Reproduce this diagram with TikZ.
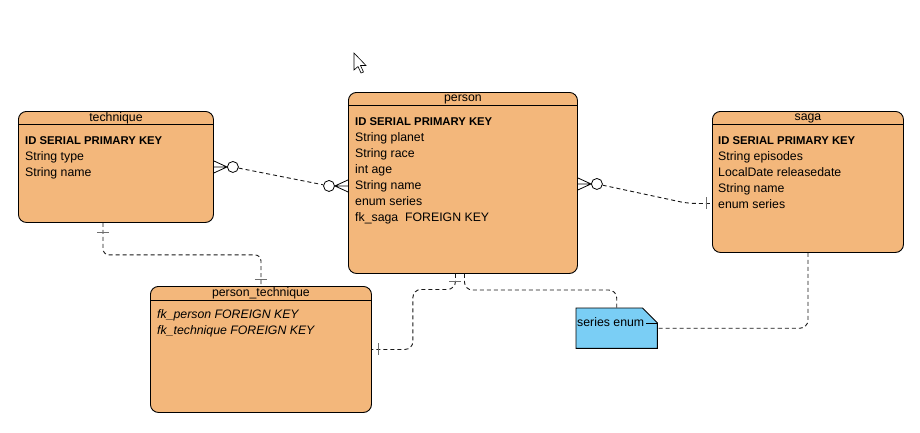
\documentclass[tikz,border=0pt]{standalone}
\usepackage{fontspec}
\setmainfont{Liberation Sans}
\usepackage{xcolor}
\definecolor{lorange}{RGB}{243,183,123}
\definecolor{lblue}{RGB}{122,206,245}
\definecolor{lgray}{RGB}{110,110,110}
\usetikzlibrary{positioning, calc}
\tikzstyle{Entity} = [draw, fill=lorange, rounded corners=8pt, line width=0.9pt,
anchor=north west, inner sep=0pt]
\tikzstyle{Note} = [anchor=north west, inner sep=0pt]
\tikzstyle{Head} = [line width=0.8pt]
\tikzstyle{Title} = [font=\fontsize{12.3}{16}\selectfont, inner sep=0pt]
\tikzstyle{Attr} = [font=\fontsize{12.3}{16}\selectfont, align=left,
anchor=north west, inner sep=0pt]
\tikzstyle{Link} = [dash pattern=on 4pt off 3pt, line width=0.9pt, black!90]
\tikzstyle{Tick} = [line width=1pt, lgray]
\tikzstyle{Foot} = [line width=0.8pt]
\tikzstyle{Zero} = [draw, circle, fill=white, minimum size=11pt, inner sep=0pt,
line width=0.8pt]
\newcommand{\pkrow}{{\fontsize{11.3}{16}\selectfont\bfseries ID SERIAL PRIMARY KEY}}

\begin{document}
\begin{tikzpicture}[x=1pt, y=-1pt]
    \path[fill=white, use as bounding box] (0,0) rectangle (920,432);

    \node[Entity, minimum width=195pt, minimum height=111pt] (technique) at (18,111) {};
    \node[Entity, minimum width=229pt, minimum height=181pt] (person) at (348,92) {};
    \node[Entity, minimum width=191pt, minimum height=141pt] (saga) at (712,111) {};
    \node[Entity, minimum width=221pt, minimum height=126pt] (pt) at (150,286) {};
    \node[Note, minimum width=81pt, minimum height=40pt] (note) at (576,308) {};
    \draw[fill=lblue, line width=0.9pt] (note.north west) -- ($(note.north east)+(-15,0)$)
        -- ($(note.north east)+(0,15)$) -- (note.south east) -- (note.south west) -- cycle;
    \draw[line width=0.7pt] ($(note.north east)+(-11,15)$) -- ($(note.north east)+(0,15)$);

    \draw[Head] ($(technique.north west)+(0,13)$) -- ($(technique.north east)+(0,13)$);
    \draw[Head] ($(person.north west)+(0,13)$) -- ($(person.north east)+(0,13)$);
    \draw[Head] ($(saga.north west)+(0,13)$) -- ($(saga.north east)+(0,13)$);
    \draw[Head] ($(pt.north west)+(0,14)$) -- ($(pt.north east)+(0,14)$);

    \node[Title] (t-title) at ($(technique.north)+(0,7)$) {technique};
    \node[Title] (p-title) at ($(person.north)+(0,7.5)$) {person};
    \node[Title] (s-title) at ($(saga.north)+(0,7)$) {saga};
    \node[Title] (pt-title) at ($(pt.north)+(0,7.5)$) {person\_technique};
    \node[Attr] (t-attr) at ($(technique.north west)+(7,25)$) {\pkrow\\String type\\String name};
    \node[Attr] (p-attr) at ($(person.north west)+(7,25)$) {\pkrow\\String planet\\String race\\int age\\String name\\enum series\\fk\_saga\ \ FOREIGN KEY};
    \node[Attr] (s-attr) at ($(saga.north west)+(6,25)$) {\pkrow\\String episodes\\LocalDate releasedate\\String name\\enum series};
    \node[Attr, font=\fontsize{12.3}{16}\selectfont\itshape] (pt-attr) at ($(pt.north west)+(7,23)$) {fk\_person FOREIGN KEY\\fk\_technique FOREIGN KEY};
    \node[Title, anchor=west] (n-label) at ($(note.west)+(1,-6)$) {series enum};

    \node[Zero] (z1) at ($(technique.east)+(19,0)$) {};
    \node[Zero] (z2) at ($(person.west)+(-19,3)$) {};
    \node[Zero] (z3) at ($(person.east)+(19,1)$) {};
    \draw[Foot] ($(technique.east)+(0,-6)$) -- (z1.west) -- ($(technique.east)+(0,6)$) (technique.east) -- (z1.west);
    \draw[Foot] ($(person.west)+(0,-3)$) -- (z2.east) -- ($(person.west)+(0,9)$) ($(person.west)+(0,3)$) -- (z2.east);
    \draw[Foot] ($(person.east)+(0,-5)$) -- (z3.west) -- ($(person.east)+(0,7)$) ($(person.east)+(0,1)$) -- (z3.west);

    \draw[Link] (z1) -- (z2);
    \draw[Link, rounded corners=8pt] (z3) -- ($(saga.west)+(-24,21.5)$) -- ($(saga.west)+(0,21.5)$);
    \draw[Link, rounded corners=6pt] ($(technique.south west)+(85,0)$) -- ++(0,32) -| (pt.north);
    \draw[Link, rounded corners=8pt] ($(person.south)+(-7.5,0)$) |- ($(pt.east)+(41,-60)$) |- (pt.east);
    \draw[Link, rounded corners=8pt] ($(person.south)+(1.5,0)$) |- ($(note.north)+(0,-18)$) -- (note.north);
    \draw[Link, rounded corners=8pt] (saga.south) |- (note.east);

    \draw[Tick] ($(technique.south west)+(79,10)$) -- ++(12,0);
    \draw[Tick] ($(pt.north)+(-6,-7)$) -- ++(12,0);
    \draw[Tick] ($(person.south)+(-13.5,8)$) -- ++(12,0);
    \draw[Tick] ($(pt.east)+(7,-6)$) -- ++(0,12);
    \draw[Tick] ($(saga.west)+(-6,15.5)$) -- ++(0,12);

    \draw[fill=white, line width=0.6pt] (354,53) -- (354,70) -- (358,66.5) -- (361,73)
        -- (363.5,72) -- (360.5,65.5) -- (366,65.5) -- cycle;
\end{tikzpicture}
\end{document}
